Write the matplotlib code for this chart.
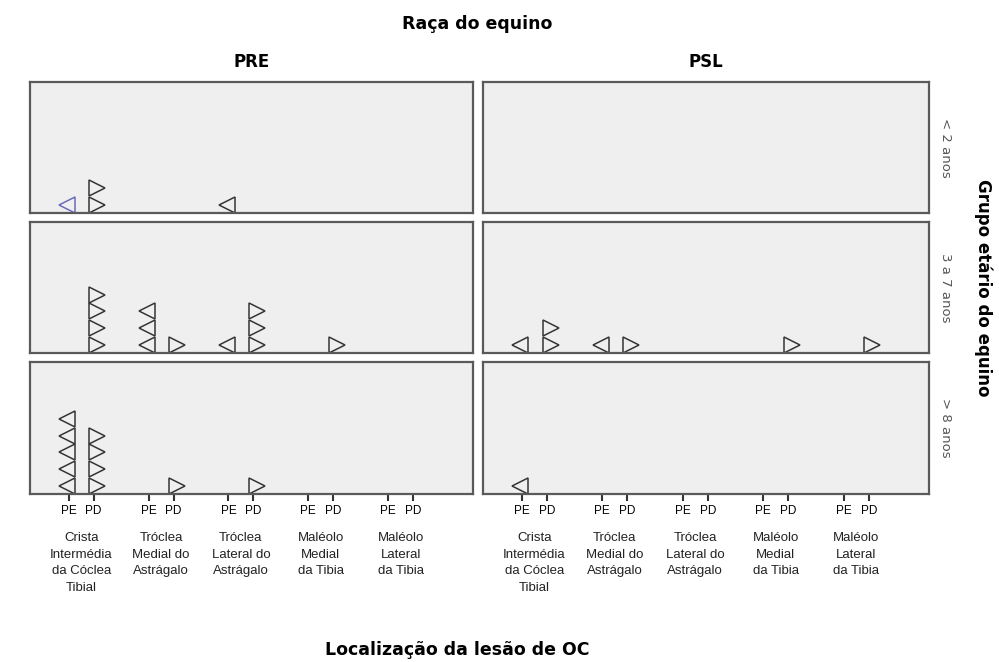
import numpy as np
import matplotlib.pyplot as plt
from matplotlib import transforms

# categories
Racas = ['PRE', 'PSL']
Idades = ['< 2 anos', '3 a 7 anos', '> 8 anos']
Locais = ['Crista\nIntermédia\nda Cóclea\nTibial', 'Tróclea\nMedial do\nAstrágalo',
          'Tróclea\nLateral do\nAstrágalo', 'Maléolo\nMedial\nda Tibia', 'Maléolo\nLateral\nda Tibia']
Membros = ['PE', 'PD']

# counts of OC lesions [local][membro] per raca / idade
CountsPRE = {
    '< 2 anos':   [[1, 2], [0, 0], [1, 0], [0, 0], [0, 0]],
    '3 a 7 anos': [[0, 4], [3, 1], [1, 3], [0, 1], [0, 0]],
    '> 8 anos':   [[5, 4], [0, 1], [0, 1], [0, 0], [0, 0]],
}
CountsPSL = {
    '< 2 anos':   [[0, 0], [0, 0], [0, 0], [0, 0], [0, 0]],
    '3 a 7 anos': [[1, 2], [1, 1], [0, 0], [0, 1], [0, 1]],
    '> 8 anos':   [[1, 0], [0, 0], [0, 0], [0, 0], [0, 0]],
}
Counts = {'PRE': CountsPRE, 'PSL': CountsPSL}
# one marker drawn in blue (PRE, < 2 anos, Crista PE)
Destaque = ('PRE', '< 2 anos', 0, 0)

GroupStep = 3.2
EdgeCol = '#353535'
BlueCol = '#6b6bbd'
PanelCol = '#efefef'
FrameCol = '#5a5a5a'
MarkerOffset = [-0.06, 0.15]

fig = plt.figure(figsize=(9.99, 6.62), dpi=100)
W, H = 999, 662

ColX = [(30, 443), (483, 446)]
RowY = [(82, 131), (222, 131), (362, 132)]

TickPos = []
TickLab = []
for g in range(len(Locais)):
    for m in range(len(Membros)):
        TickPos.append(g * GroupStep + m)
        TickLab.append(Membros[m])

for ci, raca in enumerate(Racas):
    for ri, idade in enumerate(Idades):
        x0, w = ColX[ci]
        y0, h = RowY[ri]
        ax = fig.add_axes([x0 / W, 1 - (y0 + h) / H, w / W, h / H])
        ax.set_facecolor(PanelCol)
        for s in ax.spines.values():
            s.set_color(FrameCol)
            s.set_linewidth(1.6)
        ax.set_xlim(-1.55, 16.2)
        ax.set_ylim(0, h / 16.7)
        ax.set_yticks([])

        data = Counts[raca][idade]
        for g in range(len(Locais)):
            for m in range(len(Membros)):
                n = data[g][m]
                if n == 0:
                    continue
                xs = np.full(n, g * GroupStep + m + MarkerOffset[m])
                ys = np.arange(n) + 0.5
                col = BlueCol if (raca, idade, g, m) == Destaque else EdgeCol
                ax.plot(xs, ys, linestyle='none', marker='<' if m == 0 else '>',
                        ms=12, mfc='none', mec=col, mew=1.1, clip_on=False)

        if ri == len(Idades) - 1:
            ax.set_xticks(TickPos)
            ax.set_xticklabels(TickLab, fontsize=8.5, family='Liberation Sans')
            ax.tick_params(axis='x', length=5, width=1.5, color='#333333', pad=3)
            trans = transforms.blended_transform_factory(ax.transData, ax.transAxes)
            for g, lab in enumerate(Locais):
                ax.text(g * GroupStep + 0.5, -0.29, lab, transform=trans, ha='center', va='top',
                        fontsize=9.5, family='Liberation Sans', linespacing=1.5, color='#222222')
        else:
            ax.set_xticks([])

        if ri == 0:
            ax.text(0.5, 1 + 20 / h, raca, transform=ax.transAxes, ha='center', va='center',
                    fontsize=12, fontweight='bold')
        if ci == len(Racas) - 1:
            ax.text(1 + 16 / w, 0.5, idade, transform=ax.transAxes, ha='center', va='center',
                    rotation=270, fontsize=9.5, color='#555555')

fig.text(477 / W, 1 - 24 / H, 'Raça do equino', ha='center', va='center', fontsize=12.5, fontweight='bold')
fig.text(983 / W, 1 - 288 / H, 'Grupo etário do equino', ha='center', va='center',
         rotation=270, fontsize=12, fontweight='bold')
fig.text(457 / W, 1 - 650 / H, 'Localização da lesão de OC', ha='center', va='center',
         fontsize=12.5, fontweight='bold')

plt.savefig('out.png', dpi=100)
